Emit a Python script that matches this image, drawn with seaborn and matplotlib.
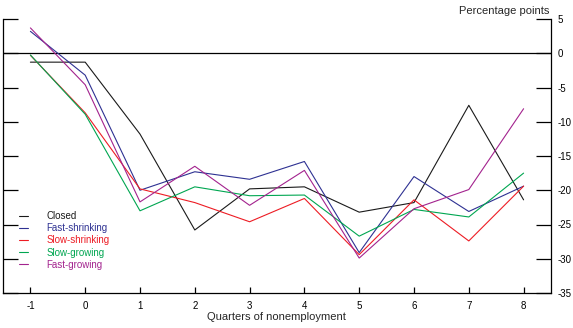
import matplotlib
matplotlib.use("Agg")
import matplotlib.pyplot as plt
import seaborn as sns
import pandas as pd

quarters = [-1, 0, 1, 2, 3, 4, 5, 6, 7, 8]
closed = [-1.3, -1.3, -11.8, -25.8, -19.8, -19.5, -23.2, -21.8, -7.6, -21.4]
fast_shrinking = [3.2, -3.2, -20.0, -17.3, -18.4, -15.8, -29.1, -18.0, -23.1, -19.4]
slow_shrinking = [-0.3, -8.7, -19.8, -21.8, -24.6, -21.2, -29.4, -21.4, -27.4, -19.4]
slow_growing = [-0.25, -8.9, -23.0, -19.5, -20.8, -20.7, -26.7, -22.8, -23.9, -17.5]
fast_growing = [3.7, -4.6, -21.7, -16.5, -22.2, -17.1, -29.9, -22.7, -19.9, -8.1]

series_names = ["Closed", "Fast-shrinking", "Slow-shrinking", "Slow-growing", "Fast-growing"]
series_values = [closed, fast_shrinking, slow_shrinking, slow_growing, fast_growing]
colors = ["#1a1a1a", "#2e3192", "#ed1c24", "#00a651", "#a3238e"]

df = pd.DataFrame(
    [(q, v, name) for name, vals in zip(series_names, series_values) for q, v in zip(quarters, vals)],
    columns=["quarter", "value", "group"],
)

sns.set_style("white")
plt.rcParams["font.family"] = ["Liberation Sans", "DejaVu Sans"]
plt.rcParams["axes.unicode_minus"] = False

fig = plt.figure(figsize=(5.73, 3.28), dpi=100)
ax = fig.add_axes([3 / 573, 35 / 328, 548 / 573, 274 / 328])

sns.lineplot(data=df, x="quarter", y="value", hue="group", hue_order=series_names,
             palette=colors, linewidth=0.8, ax=ax, legend=False)

ax.axhline(0, color="black", linewidth=0.9, zorder=1)

ax.set_xlim(-1.5, 8.5)
ax.set_ylim(-35, 5)
ax.set_xticks(quarters)
ax.set_yticks(range(-35, 6, 5))

for side in ["left", "right", "bottom"]:
    ax.spines[side].set_visible(True)
    ax.spines[side].set_color("black")
    ax.spines[side].set_linewidth(0.9)
ax.spines["top"].set_visible(False)

ax.tick_params(axis="y", which="both", direction="in", length=11, width=0.9,
               left=True, right=True, labelleft=False, labelright=True,
               labelsize=7, pad=5, colors="black")
ax.tick_params(axis="x", direction="in", length=4, width=0.9, bottom=True,
               labelsize=7, pad=6, colors="black")

ax.set_xlabel("")
ax.set_ylabel("")
fig.text(276 / 573, 1 - 317 / 328, "Quarters of nonemployment", ha="center", va="center", fontsize=8)
fig.text(549 / 573, 1 - 11 / 328, "Percentage points", ha="right", va="center", fontsize=8)

handles = [plt.Line2D([], [], color=c, linewidth=0.8) for c in colors]
leg = ax.legend(handles, series_names, loc="lower left", bbox_to_anchor=(0.03, 0.085),
                frameon=False, fontsize=7, handlelength=0.9, handletextpad=1.9,
                labelspacing=0.22, borderaxespad=0, borderpad=0)
for text, c in zip(leg.get_texts(), colors):
    text.set_color(c)

fig.savefig("out.png", dpi=100)
